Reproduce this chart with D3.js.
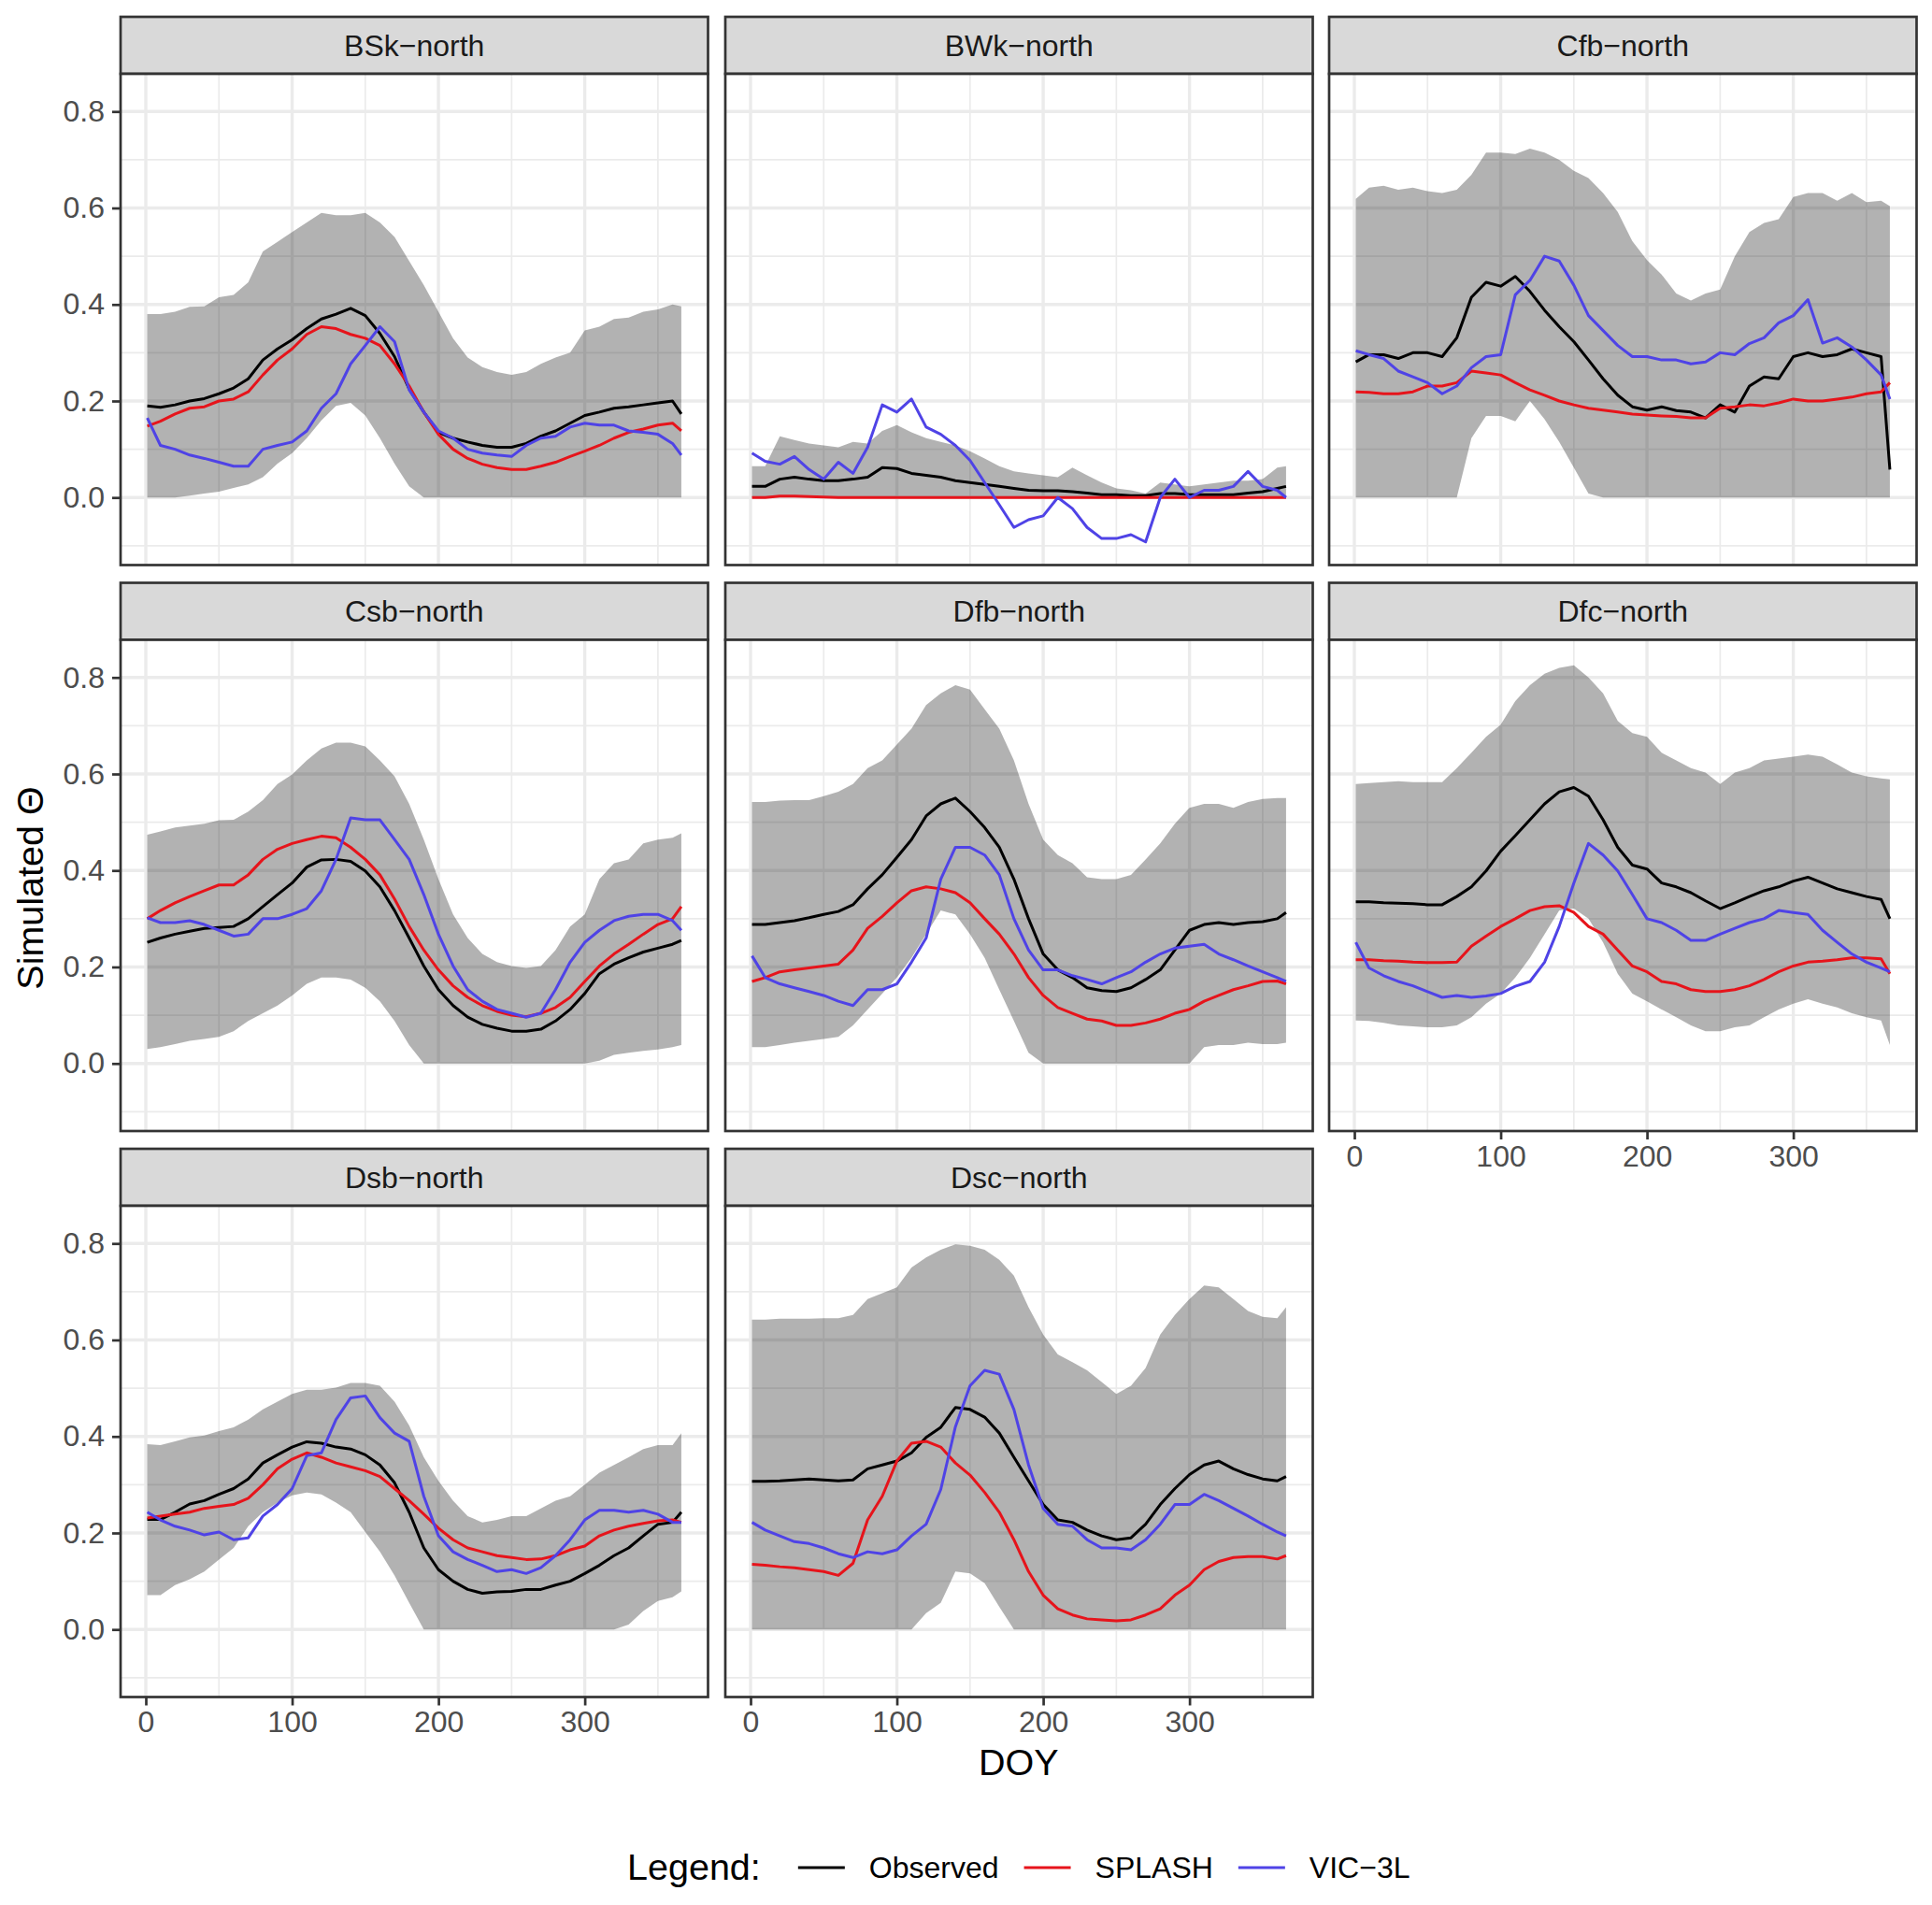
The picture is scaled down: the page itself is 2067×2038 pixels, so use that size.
<!DOCTYPE html>
<html>
<head>
<meta charset="utf-8">
<script src="https://cdn.jsdelivr.net/npm/d3@7"></script>
<style>
body{margin:0;background:#fff;}
svg text{font-family:"Liberation Sans",Arial,Helvetica,sans-serif;}
</style>
</head>
<body>
<svg id="chart" width="2067" height="2038"></svg>
<script>
// day of year sampled every 10 days
var doy = [1,10,20,30,40,50,60,70,80,90,100,110,120,130,140,150,160,170,180,190,200,210,220,230,240,250,260,270,280,290,300,310,320,330,340,350,360,366];

var xTicks = [0,100,200,300];
var xMinor = [50,150,250,350];
var yTicks = [0,0.2,0.4,0.6,0.8];
var yMinor = [-0.1,0.1,0.3,0.5,0.7];

var seriesNames = ["Observed","SPLASH","VIC\u22123L"];
var seriesColors = ["#000000","#E6141B","#4F43E6"];

// BSk-north
var bskLo = [0,0,0,0.004,0.008,0.012,0.02,0.027,0.042,0.07,0.092,0.123,0.16,0.19,0.196,0.17,0.123,0.07,0.023,0,0,0,0,0,0,0,0,0,0,0,0,0,0,0,0,0,0,0];
var bskHi = [0.38,0.38,0.385,0.395,0.396,0.415,0.42,0.446,0.51,0.53,0.55,0.57,0.59,0.585,0.585,0.59,0.57,0.54,0.49,0.44,0.385,0.33,0.29,0.27,0.26,0.254,0.26,0.277,0.29,0.30,0.346,0.354,0.37,0.373,0.385,0.39,0.40,0.396];
var bskObs = [0.19,0.187,0.192,0.2,0.205,0.215,0.227,0.246,0.285,0.308,0.327,0.35,0.37,0.38,0.392,0.377,0.34,0.292,0.225,0.177,0.135,0.123,0.115,0.108,0.104,0.104,0.112,0.127,0.138,0.154,0.17,0.177,0.185,0.188,0.192,0.196,0.2,0.173];
var bskSplash = [0.148,0.158,0.173,0.185,0.188,0.2,0.204,0.219,0.254,0.285,0.308,0.338,0.354,0.35,0.338,0.33,0.315,0.277,0.231,0.177,0.131,0.1,0.081,0.069,0.062,0.058,0.058,0.065,0.073,0.085,0.096,0.108,0.123,0.135,0.142,0.15,0.154,0.138];
var bskVic = [0.165,0.108,0.1,0.088,0.081,0.073,0.065,0.065,0.1,0.108,0.115,0.138,0.185,0.215,0.277,0.315,0.354,0.323,0.223,0.177,0.138,0.123,0.1,0.092,0.088,0.085,0.108,0.123,0.127,0.146,0.154,0.15,0.15,0.138,0.135,0.131,0.112,0.088];

// BWk-north
var bwkLo = [0,0,0,0,0,0,0,0,0,0,0,0,0,0,0,0,0,0,0,0,0,0,0,0,0,0,0,0,0,0,0,0,0,0,0,0,0,0];
var bwkHi = [0.065,0.065,0.127,0.119,0.112,0.108,0.104,0.115,0.112,0.138,0.15,0.135,0.123,0.115,0.108,0.096,0.081,0.065,0.054,0.05,0.046,0.042,0.062,0.046,0.031,0.019,0.015,0.008,0.031,0.027,0.023,0.027,0.031,0.035,0.035,0.038,0.062,0.065];
var bwkObs = [0.023,0.023,0.038,0.042,0.038,0.035,0.035,0.038,0.042,0.062,0.06,0.05,0.046,0.042,0.035,0.031,0.027,0.023,0.019,0.015,0.014,0.014,0.012,0.009,0.006,0.006,0.004,0.004,0.008,0.008,0.006,0.006,0.006,0.006,0.009,0.012,0.019,0.023];
var bwkSplash = [0,0,0.003,0.003,0.002,0.001,0,0,0,0,0,0,0,0,0,0,0,0,0,0,0,0,0,0,0,0,0,0,0,0,0,0,0,0,0,0,0,0];
var bwkVic = [0.092,0.075,0.069,0.085,0.058,0.038,0.073,0.05,0.104,0.192,0.177,0.204,0.146,0.131,0.108,0.077,0.031,-0.015,-0.062,-0.046,-0.038,0,-0.023,-0.062,-0.085,-0.085,-0.077,-0.092,0,0.038,0,0.015,0.015,0.023,0.054,0.023,0.015,0];

// Cfb-north
var cfbLo = [0,0,0,0,0,0,0,0,0.123,0.169,0.169,0.158,0.2,0.162,0.115,0.062,0.008,0,0,0,0,0,0,0,0,0,0,0,0,0,0,0,0,0,0,0,0,0];
var cfbHi = [0.619,0.642,0.646,0.638,0.642,0.635,0.631,0.638,0.669,0.715,0.715,0.712,0.723,0.715,0.7,0.677,0.662,0.631,0.592,0.531,0.492,0.462,0.423,0.408,0.423,0.431,0.5,0.55,0.569,0.577,0.623,0.631,0.631,0.615,0.631,0.612,0.615,0.604];
var cfbObs = [0.281,0.296,0.296,0.288,0.3,0.3,0.292,0.331,0.415,0.446,0.438,0.458,0.427,0.388,0.354,0.323,0.285,0.246,0.212,0.188,0.181,0.188,0.18,0.177,0.165,0.192,0.177,0.231,0.25,0.246,0.292,0.3,0.292,0.296,0.308,0.3,0.292,0.058];
var cfbSplash = [0.219,0.218,0.215,0.215,0.219,0.231,0.231,0.238,0.262,0.258,0.254,0.238,0.223,0.212,0.2,0.192,0.185,0.181,0.177,0.173,0.171,0.169,0.168,0.165,0.165,0.185,0.188,0.192,0.19,0.196,0.204,0.2,0.2,0.204,0.208,0.215,0.219,0.238];
var cfbVic = [0.304,0.296,0.288,0.262,0.25,0.238,0.215,0.231,0.269,0.292,0.296,0.42,0.45,0.5,0.49,0.44,0.377,0.346,0.315,0.292,0.292,0.285,0.285,0.277,0.281,0.3,0.296,0.319,0.331,0.362,0.377,0.41,0.32,0.331,0.312,0.285,0.254,0.204];

// Csb-north
var csbLo = [0.03,0.034,0.04,0.047,0.051,0.055,0.067,0.088,0.104,0.12,0.141,0.165,0.178,0.178,0.174,0.157,0.129,0.088,0.038,0,0,0,0,0,0,0,0,0,0,0,0,0.006,0.018,0.022,0.026,0.029,0.034,0.038];
var csbHi = [0.474,0.481,0.489,0.493,0.497,0.504,0.505,0.522,0.546,0.579,0.599,0.628,0.653,0.665,0.665,0.657,0.628,0.595,0.538,0.464,0.382,0.309,0.26,0.227,0.21,0.202,0.198,0.202,0.235,0.284,0.309,0.382,0.415,0.423,0.456,0.464,0.468,0.477];
var csbObs = [0.251,0.26,0.268,0.274,0.28,0.282,0.284,0.3,0.325,0.35,0.374,0.407,0.422,0.423,0.419,0.399,0.366,0.317,0.26,0.202,0.153,0.12,0.096,0.081,0.073,0.067,0.067,0.071,0.088,0.112,0.145,0.186,0.206,0.219,0.231,0.239,0.247,0.255];
var csbSplash = [0.3,0.317,0.333,0.346,0.358,0.37,0.37,0.391,0.423,0.444,0.456,0.464,0.471,0.468,0.448,0.423,0.391,0.341,0.284,0.235,0.194,0.161,0.137,0.12,0.108,0.1,0.097,0.104,0.116,0.137,0.17,0.202,0.227,0.247,0.268,0.288,0.3,0.325];
var csbVic = [0.302,0.292,0.292,0.296,0.288,0.276,0.264,0.268,0.3,0.3,0.309,0.321,0.358,0.423,0.509,0.505,0.505,0.464,0.423,0.35,0.268,0.202,0.153,0.129,0.112,0.104,0.096,0.104,0.153,0.21,0.251,0.276,0.296,0.305,0.309,0.309,0.296,0.276];

// Dfb-north
var dfbLo = [0.034,0.034,0.038,0.043,0.047,0.051,0.055,0.079,0.112,0.145,0.178,0.219,0.268,0.317,0.309,0.268,0.219,0.153,0.088,0.022,0,0,0,0,0,0,0,0,0,0,0,0.034,0.038,0.038,0.043,0.04,0.04,0.043];
var dfbHi = [0.542,0.542,0.545,0.546,0.546,0.554,0.563,0.579,0.612,0.628,0.661,0.694,0.743,0.767,0.784,0.775,0.734,0.694,0.628,0.538,0.464,0.432,0.415,0.386,0.382,0.382,0.391,0.423,0.456,0.497,0.53,0.538,0.538,0.53,0.542,0.548,0.55,0.55];
var dfbObs = [0.288,0.288,0.292,0.296,0.302,0.309,0.315,0.329,0.362,0.391,0.427,0.464,0.513,0.538,0.55,0.522,0.489,0.448,0.382,0.3,0.227,0.194,0.178,0.157,0.151,0.149,0.157,0.174,0.194,0.235,0.276,0.288,0.292,0.288,0.292,0.294,0.3,0.313];
var dfbSplash = [0.17,0.178,0.19,0.194,0.198,0.202,0.206,0.235,0.28,0.305,0.333,0.358,0.366,0.362,0.354,0.333,0.3,0.268,0.227,0.178,0.141,0.116,0.104,0.092,0.088,0.079,0.079,0.084,0.092,0.104,0.112,0.129,0.141,0.153,0.161,0.17,0.171,0.165];
var dfbVic = [0.223,0.178,0.165,0.157,0.149,0.141,0.129,0.12,0.153,0.153,0.165,0.21,0.26,0.382,0.448,0.448,0.432,0.391,0.3,0.235,0.194,0.194,0.182,0.174,0.165,0.178,0.19,0.21,0.227,0.239,0.243,0.247,0.227,0.215,0.202,0.19,0.178,0.17];

// Dfc-north
var dfcLo = [0.089,0.088,0.084,0.079,0.077,0.075,0.075,0.079,0.096,0.124,0.145,0.178,0.219,0.268,0.317,0.321,0.3,0.251,0.186,0.145,0.129,0.112,0.096,0.079,0.067,0.067,0.075,0.079,0.096,0.112,0.124,0.133,0.124,0.116,0.104,0.096,0.089,0.038];
var dfcHi = [0.579,0.581,0.583,0.585,0.583,0.583,0.583,0.612,0.644,0.677,0.702,0.751,0.784,0.808,0.82,0.825,0.8,0.767,0.71,0.685,0.677,0.644,0.628,0.612,0.603,0.579,0.603,0.612,0.628,0.632,0.636,0.64,0.636,0.62,0.603,0.595,0.591,0.589];
var dfcObs = [0.335,0.335,0.333,0.332,0.331,0.329,0.329,0.346,0.366,0.399,0.44,0.472,0.505,0.538,0.563,0.572,0.554,0.505,0.448,0.411,0.403,0.374,0.366,0.354,0.337,0.321,0.333,0.346,0.358,0.366,0.378,0.386,0.374,0.362,0.354,0.346,0.34,0.3];
var dfcSplash = [0.215,0.215,0.213,0.212,0.21,0.209,0.209,0.21,0.243,0.264,0.284,0.3,0.317,0.325,0.327,0.313,0.284,0.268,0.235,0.202,0.19,0.17,0.165,0.153,0.149,0.149,0.153,0.161,0.174,0.19,0.202,0.21,0.212,0.215,0.219,0.219,0.217,0.186];
var dfcVic = [0.251,0.198,0.182,0.17,0.161,0.149,0.137,0.141,0.137,0.14,0.145,0.16,0.17,0.21,0.284,0.374,0.456,0.432,0.399,0.35,0.3,0.292,0.276,0.255,0.255,0.268,0.28,0.292,0.3,0.317,0.313,0.309,0.276,0.251,0.227,0.21,0.198,0.19];

// Dsb-north
var dsbLo = [0.071,0.071,0.092,0.104,0.12,0.145,0.169,0.214,0.243,0.263,0.278,0.284,0.28,0.263,0.243,0.202,0.161,0.112,0.055,0,0,0,0,0,0,0,0,0,0,0,0,0,0,0.01,0.038,0.059,0.067,0.079];
var dsbHi = [0.384,0.382,0.39,0.398,0.402,0.411,0.419,0.435,0.456,0.472,0.488,0.497,0.497,0.501,0.511,0.511,0.505,0.472,0.423,0.357,0.308,0.267,0.235,0.222,0.227,0.235,0.235,0.251,0.267,0.276,0.3,0.325,0.341,0.357,0.374,0.382,0.382,0.407];
var dsbObs = [0.228,0.228,0.243,0.26,0.267,0.28,0.292,0.312,0.345,0.362,0.378,0.389,0.386,0.378,0.374,0.362,0.341,0.304,0.243,0.169,0.124,0.1,0.083,0.075,0.078,0.079,0.083,0.083,0.092,0.1,0.116,0.133,0.153,0.169,0.194,0.218,0.222,0.243];
var dsbSplash = [0.231,0.235,0.239,0.243,0.251,0.255,0.259,0.272,0.3,0.333,0.353,0.366,0.357,0.345,0.337,0.329,0.317,0.292,0.267,0.239,0.21,0.186,0.169,0.161,0.153,0.149,0.145,0.146,0.153,0.165,0.173,0.194,0.206,0.214,0.22,0.225,0.227,0.222];
var dsbVic = [0.243,0.227,0.214,0.206,0.196,0.202,0.186,0.19,0.235,0.259,0.292,0.36,0.366,0.435,0.48,0.484,0.439,0.407,0.39,0.276,0.194,0.161,0.145,0.133,0.12,0.124,0.116,0.128,0.153,0.186,0.227,0.247,0.247,0.243,0.247,0.239,0.222,0.222];

// Dsc-north
var dscLo = [0,0,0,0,0,0,0,0,0,0,0,0,0.034,0.055,0.12,0.116,0.096,0.047,0,0,0,0,0,0,0,0,0,0,0,0,0,0,0,0,0,0,0,0];
var dscHi = [0.642,0.642,0.644,0.644,0.644,0.645,0.645,0.652,0.685,0.697,0.709,0.75,0.771,0.787,0.798,0.795,0.787,0.766,0.733,0.668,0.611,0.57,0.554,0.537,0.513,0.488,0.505,0.542,0.611,0.652,0.685,0.713,0.709,0.685,0.66,0.648,0.645,0.668];
var dscObs = [0.307,0.307,0.308,0.31,0.312,0.31,0.308,0.31,0.333,0.341,0.349,0.366,0.398,0.419,0.46,0.456,0.44,0.407,0.357,0.308,0.259,0.227,0.222,0.206,0.194,0.186,0.19,0.218,0.259,0.292,0.321,0.341,0.349,0.333,0.321,0.312,0.308,0.317];
var dscSplash = [0.135,0.133,0.13,0.128,0.124,0.12,0.112,0.137,0.227,0.276,0.349,0.386,0.39,0.378,0.345,0.32,0.284,0.243,0.186,0.12,0.071,0.043,0.03,0.022,0.02,0.018,0.02,0.03,0.043,0.071,0.092,0.124,0.141,0.149,0.151,0.151,0.146,0.153];
var dscVic = [0.222,0.206,0.194,0.182,0.178,0.169,0.157,0.149,0.161,0.157,0.165,0.194,0.218,0.29,0.42,0.505,0.537,0.529,0.456,0.341,0.251,0.218,0.214,0.186,0.169,0.169,0.165,0.186,0.218,0.259,0.259,0.28,0.267,0.251,0.235,0.218,0.202,0.194];

var facets = [
	{name:"BSk\u2212north", lo:bskLo, hi:bskHi, lines:[bskObs,bskSplash,bskVic]},
	{name:"BWk\u2212north", lo:bwkLo, hi:bwkHi, lines:[bwkObs,bwkSplash,bwkVic]},
	{name:"Cfb\u2212north", lo:cfbLo, hi:cfbHi, lines:[cfbObs,cfbSplash,cfbVic]},
	{name:"Csb\u2212north", lo:csbLo, hi:csbHi, lines:[csbObs,csbSplash,csbVic]},
	{name:"Dfb\u2212north", lo:dfbLo, hi:dfbHi, lines:[dfbObs,dfbSplash,dfbVic]},
	{name:"Dfc\u2212north", lo:dfcLo, hi:dfcHi, lines:[dfcObs,dfcSplash,dfcVic]},
	{name:"Dsb\u2212north", lo:dsbLo, hi:dsbHi, lines:[dsbObs,dsbSplash,dsbVic]},
	{name:"Dsc\u2212north", lo:dscLo, hi:dscHi, lines:[dscObs,dscSplash,dscVic]}
];

// layout of the facet grid
var colX = [129, 776, 1422];
var rowY = [18, 623.5, 1229];
var panelW = 628.5, stripH = 61, panelH = 525.5;
var smallFont = 32, titleFont = 39.5;
var dark = '#333333';

var svg = d3.select('#chart');
svg.append('rect').attr('width',2067).attr('height',2038).attr('fill','#fff');

var x = d3.scaleLinear().domain([-17.25, 384.25]).range([0, panelW]);
var y = d3.scaleLinear().domain([-0.140, 0.878]).range([panelH, 0]);

var ribbon = d3.area()
	.x(function(d){ return x(d.doy); })
	.y0(function(d){ return y(d.lo); })
	.y1(function(d){ return y(d.hi); });
var line = d3.line()
	.x(function(d){ return x(d.doy); })
	.y(function(d){ return y(d.v); });

function styleAxis(g){
	g.select('.domain').remove();
	g.selectAll('.tick line').attr('stroke', dark).attr('stroke-width', 2.7);
	g.selectAll('.tick text')
		.attr('fill', '#4D4D4D')
		.attr('font-size', smallFont)
		.attr('font-family', '"Liberation Sans",Arial,sans-serif');
}

facets.forEach(function(f, i){
	var col = i % 3, row = Math.floor(i / 3);
	var left = colX[col], top = rowY[row] + stripH;

	// strip
	svg.append('rect')
		.attr('x', left).attr('y', rowY[row])
		.attr('width', panelW).attr('height', stripH)
		.attr('fill', '#D9D9D9')
		.attr('stroke', dark).attr('stroke-width', 2.7);
	svg.append('text')
		.attr('x', left + panelW / 2).attr('y', rowY[row] + stripH / 2)
		.attr('text-anchor', 'middle')
		.attr('dominant-baseline', 'central')
		.attr('font-size', smallFont)
		.attr('fill', '#1A1A1A')
		.text(f.name);

	var g = svg.append('g').attr('transform', 'translate(' + left + ',' + top + ')');
	g.append('rect').attr('width', panelW).attr('height', panelH).attr('fill', '#fff');

	// grid
	g.selectAll('.ymin').data(yMinor).enter().append('line')
		.attr('x1', 0).attr('x2', panelW)
		.attr('y1', function(d){ return y(d); }).attr('y2', function(d){ return y(d); })
		.attr('stroke', '#EBEBEB').attr('stroke-width', 1.7);
	g.selectAll('.xmin').data(xMinor).enter().append('line')
		.attr('y1', 0).attr('y2', panelH)
		.attr('x1', function(d){ return x(d); }).attr('x2', function(d){ return x(d); })
		.attr('stroke', '#EBEBEB').attr('stroke-width', 1.7);
	g.selectAll('.ymaj').data(yTicks).enter().append('line')
		.attr('x1', 0).attr('x2', panelW)
		.attr('y1', function(d){ return y(d); }).attr('y2', function(d){ return y(d); })
		.attr('stroke', '#EBEBEB').attr('stroke-width', 3.4);
	g.selectAll('.xmaj').data(xTicks).enter().append('line')
		.attr('y1', 0).attr('y2', panelH)
		.attr('x1', function(d){ return x(d); }).attr('x2', function(d){ return x(d); })
		.attr('stroke', '#EBEBEB').attr('stroke-width', 3.4);

	// ribbon
	var band = doy.map(function(d, k){ return {doy:d, lo:f.lo[k], hi:f.hi[k]}; });
	g.append('path').datum(band)
		.attr('d', ribbon)
		.attr('fill', '#000').attr('fill-opacity', 0.3);

	// series
	f.lines.forEach(function(s, j){
		var pts = doy.map(function(d, k){ return {doy:d, v:s[k]}; });
		g.append('path').datum(pts)
			.attr('d', line)
			.attr('fill', 'none')
			.attr('stroke', seriesColors[j])
			.attr('stroke-width', 3)
			.attr('stroke-linejoin', 'round');
	});

	g.append('rect').attr('width', panelW).attr('height', panelH)
		.attr('fill', 'none').attr('stroke', dark).attr('stroke-width', 2.7);

	if(col === 0){
		g.append('g')
			.call(d3.axisLeft(y).tickValues(yTicks).tickFormat(d3.format('.1f')).tickSize(9).tickPadding(8))
			.call(styleAxis);
	}
	// bottom axis where no facet sits below
	if(i + 3 >= facets.length){
		g.append('g')
			.attr('transform', 'translate(0,' + panelH + ')')
			.call(d3.axisBottom(x).tickValues(xTicks).tickSize(9).tickPadding(6))
			.call(styleAxis);
	}
});

// axis titles
svg.append('text')
	.attr('x', (colX[0] + colX[2] + panelW) / 2).attr('y', 1899)
	.attr('text-anchor', 'middle')
	.attr('font-size', titleFont)
	.attr('fill', '#000')
	.text('DOY');
svg.append('text')
	.attr('transform', 'translate(46,950) rotate(-90)')
	.attr('text-anchor', 'middle')
	.attr('font-size', titleFont)
	.attr('fill', '#000')
	.text('Simulated \u0398');

// legend at the bottom, centred under the panels
var leg = svg.append('g');
var legTitle = leg.append('text')
	.attr('x', 0).attr('y', 2011)
	.attr('font-size', titleFont)
	.attr('fill', '#000')
	.text('Legend:');
var cx = legTitle.node().getComputedTextLength() + 40;
seriesNames.forEach(function(n, j){
	leg.append('line')
		.attr('x1', cx).attr('x2', cx + 50)
		.attr('y1', 1998).attr('y2', 1998)
		.attr('stroke', seriesColors[j]).attr('stroke-width', 3);
	var t = leg.append('text')
		.attr('x', cx + 76).attr('y', 2009)
		.attr('font-size', smallFont)
		.attr('fill', '#000')
		.text(n);
	cx = cx + 76 + t.node().getComputedTextLength() + 27;
});
var legW = cx - 27;
leg.attr('transform', 'translate(' + ((colX[0] + colX[2] + panelW) / 2 - legW / 2) + ',0)');
</script>
</body>
</html>
